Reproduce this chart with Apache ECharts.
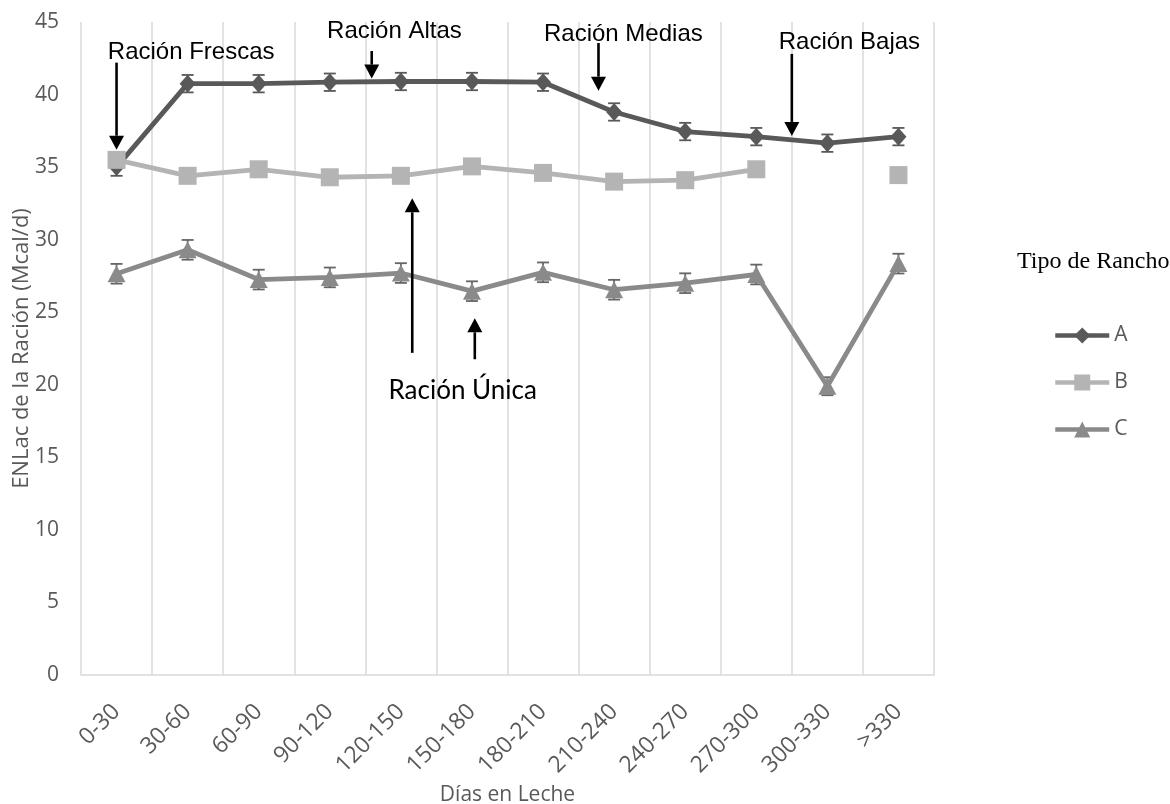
<!DOCTYPE html>
<html><head><meta charset="utf-8">
<script src="https://cdn.jsdelivr.net/npm/echarts@6/dist/echarts.min.js"></script>
<style>html,body{margin:0;padding:0;background:#fff}#c{width:1170px;height:804px}</style>
</head><body><div id="c"></div>
<script>
const categories = ['0-30','30-60','60-90','90-120','120-150','150-180','180-210','210-240','240-270','270-300','300-330','>330'];
const serieA = [35.0, 40.75, 40.75, 40.85, 40.9, 40.9, 40.85, 38.8, 37.45, 37.1, 36.65, 37.1];
const errA   = [0.6, 0.6, 0.6, 0.6, 0.6, 0.6, 0.6, 0.6, 0.6, 0.6, 0.6, 0.6];
const serieB = [35.5, 34.4, 34.85, 34.3, 34.4, 35.05, 34.6, 34.0, 34.1, 34.85, null, 34.45];
const serieC = [27.65, 29.3, 27.25, 27.4, 27.7, 26.45, 27.75, 26.55, 27.0, 27.6, 19.9, 28.35];
const errC   = [0.68, 0.68, 0.68, 0.68, 0.68, 0.68, 0.68, 0.68, 0.68, 0.68, 0.62, 0.68];
const yTicks = [0, 5, 10, 15, 20, 25, 30, 35, 40, 45];
const seriesNames = ['A', 'B', 'C'];
const yAxisTitle = 'ENLac de la Ración (Mcal/d)';
const xAxisTitle = 'Días en Leche';

// annotation labels and arrows (x in category-index units, y in axis units)
const annotTexts = [
  {text:'Ración Frescas', x:1.05, y:42.94, font:'Liberation Sans', size:24},
  {text:'Ración Altas',   x:3.91, y:44.38, font:'Liberation Sans', size:24},
  {text:'Ración Medias',  x:7.13, y:44.18, font:'Liberation Sans', size:24},
  {text:'Ración Bajas',   x:10.31, y:43.6, font:'Liberation Sans', size:24},
  {text:'Ración Única',   x:4.87, y:19.6, font:'Lato', size:26}
];
const annotArrows = [
  {x:0.0,  y0:42.2,  y1:36.2},
  {x:3.59, y0:43.0,  y1:41.1},
  {x:6.78, y0:43.55, y1:40.27},
  {x:9.5,  y0:42.8,  y1:37.15},
  {x:4.16, y0:22.2,  y1:32.85},
  {x:5.04, y0:21.76, y1:24.58}
];

const colA = '#595959', colB = '#b4b4b4', colC = '#8a8a8a';

function errSeries(vals, errs, color){
  return {
    type:'custom', xAxisIndex:0, yAxisIndex:0, z:1, silent:true,
    data: vals.map((v,i)=>[i, v - errs[i], v + errs[i]]),
    renderItem: function(params, api){
      const lo = api.coord([api.value(0), api.value(1)]);
      const hi = api.coord([api.value(0), api.value(2)]);
      const hw = 6;
      const st = {stroke: color, lineWidth: 1.8};
      return {type:'group', children:[
        {type:'line', shape:{x1:lo[0], y1:lo[1], x2:hi[0], y2:hi[1]}, style:st},
        {type:'line', shape:{x1:lo[0]-hw, y1:lo[1], x2:lo[0]+hw, y2:lo[1]}, style:st},
        {type:'line', shape:{x1:hi[0]-hw, y1:hi[1], x2:hi[0]+hw, y2:hi[1]}, style:st}
      ]};
    }
  };
}

const axisFont = 'Open Sans';
const chart = echarts.init(document.getElementById('c'), null, {renderer:'canvas'});
const option = {
  backgroundColor:'#ffffff',
  animation:false,
  title:{text:'Tipo de Rancho', left:1012, top:245,
    textStyle:{fontFamily:'Liberation Serif', fontSize:24, fontWeight:'normal', color:'#000'}},
  legend:{
    orient:'vertical', left:1048, top:320, itemWidth:54, itemHeight:20, itemGap:26,
    textStyle:{fontFamily:axisFont, fontSize:21, color:'#595959'},
    lineStyle:{width:4.5},
    data: seriesNames
  },
  grid:{left:81, right:236, top:22, bottom:129, containLabel:false, outerBoundsMode:'none'},
  xAxis:[{
    type:'category', data:categories, boundaryGap:true,
    name:xAxisTitle, nameLocation:'middle', nameGap:107,
    nameTextStyle:{fontFamily:axisFont, fontSize:21, color:'#595959'},
    axisLine:{show:true, lineStyle:{color:'#d9d9d9', width:1.5}},
    axisTick:{show:false},
    axisLabel:{rotate:45, margin:33, fontFamily:axisFont, fontSize:23, color:'#595959', interval:0},
    splitLine:{show:true, interval:0, lineStyle:{color:'#d9d9d9', width:1.5}}
  },{
    type:'value', min:-0.5, max:11.5, show:false
  }],
  yAxis:{
    type:'value', min:0, max:45, interval:5,
    axisLine:{show:false}, axisTick:{show:false},
    axisLabel:{fontFamily:axisFont, fontSize:21, color:'#595959', margin:22},
    splitLine:{show:false}
  },
  series:[
    errSeries(serieA, errA, colA),
    errSeries(serieC, errC, '#666666'),
    {name:'A', type:'line', data:serieA, symbol:'diamond', symbolSize:[16,18], z:3,
      lineStyle:{color:colA, width:4.8}, itemStyle:{color:colA}},
    {name:'B', type:'line', data:serieB, symbol:'rect', symbolSize:18, z:4, connectNulls:false,
      lineStyle:{color:colB, width:4.8}, itemStyle:{color:colB}},
    {name:'C', type:'line', data:serieC, symbol:'triangle', symbolSize:[18,17], z:3,
      lineStyle:{color:colC, width:4.8}, itemStyle:{color:colC}},
    {type:'line', xAxisIndex:1, data:[], silent:true}
  ]
};
chart.setOption(option);

function px(x, y){ return chart.convertToPixel({xAxisIndex:1, yAxisIndex:0}, [x, y]); }
const graphics = [];
// y axis title, centred on the plot height
const yMid = px(0, 22.5);
graphics.push({type:'text', x:22, y:yMid[1], rotation:Math.PI/2, z:10,
  style:{text:yAxisTitle, fontFamily:axisFont, fontSize:22, fill:'#595959', textAlign:'center', textVerticalAlign:'middle'}});
annotTexts.forEach(a=>{
  const p = px(a.x, a.y);
  graphics.push({type:'text', x:p[0], y:p[1], z:10,
    style:{text:a.text, fontFamily:a.font, fontSize:a.size, fill:'#000', textAlign:'center', textVerticalAlign:'middle'}});
});
annotArrows.forEach(a=>{
  const p0 = px(a.x, a.y0), p1 = px(a.x, a.y1);
  const dir = p1[1] > p0[1] ? 1 : -1;
  const len = 14, hw = 7.5;
  const base = p1[1] - dir*len;
  graphics.push({type:'line', z:10, shape:{x1:p0[0], y1:p0[1], x2:p1[0], y2:base}, style:{stroke:'#000', lineWidth:2.6}});
  graphics.push({type:'polygon', z:10, shape:{points:[[p1[0]-hw, base],[p1[0]+hw, base],[p1[0], p1[1]]]}, style:{fill:'#000'}});
});
chart.setOption({graphic: graphics});
</script></body></html>
